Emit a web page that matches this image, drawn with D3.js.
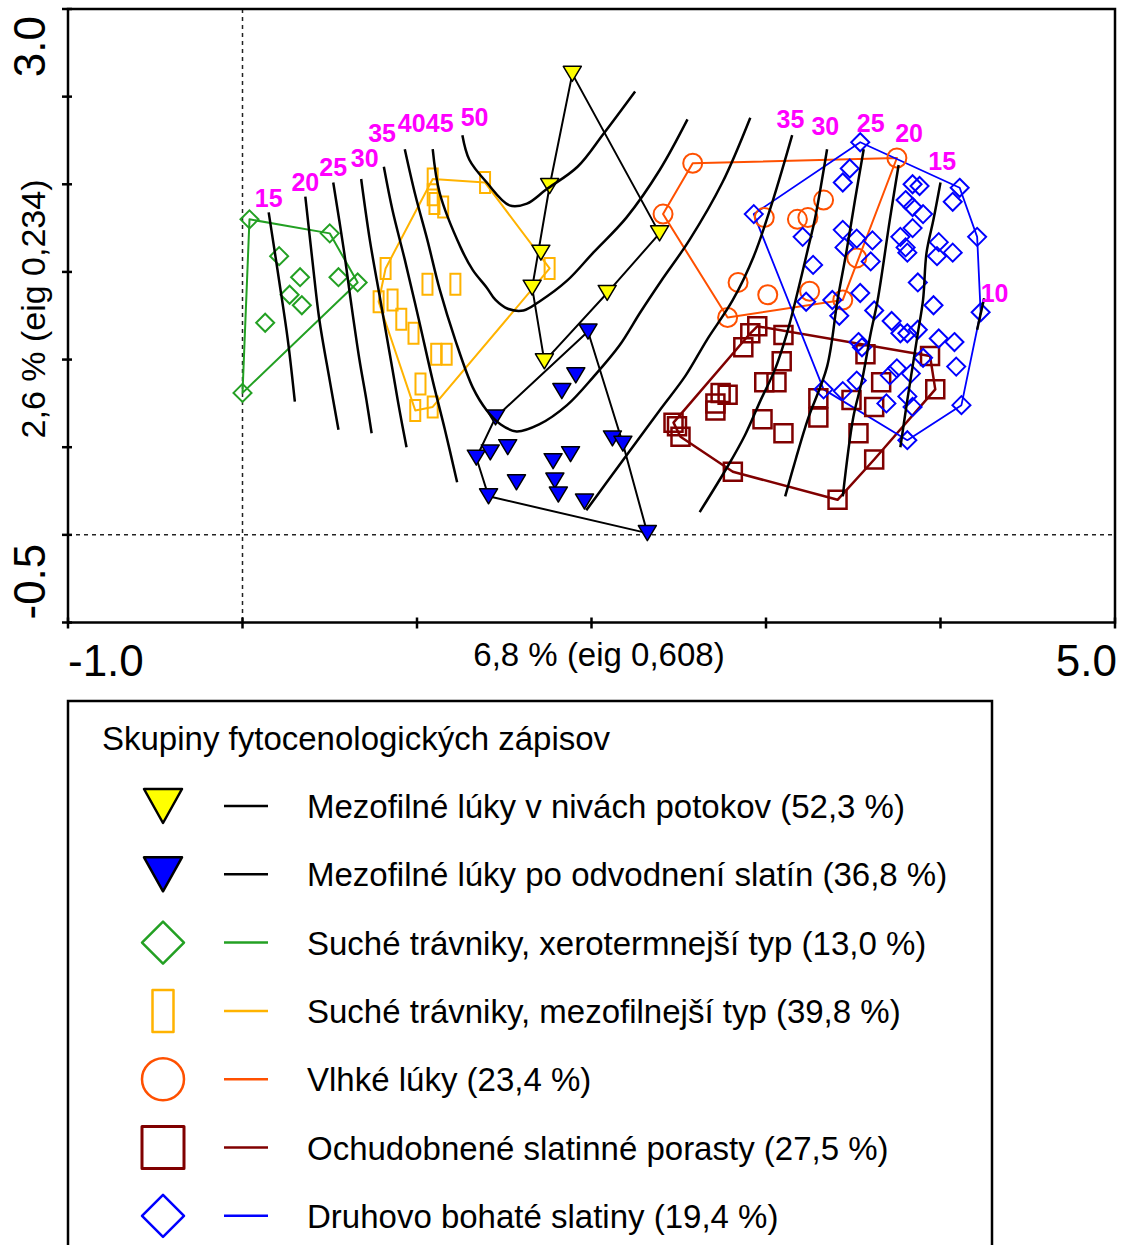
<!DOCTYPE html>
<html lang="sk">
<head>
<meta charset="utf-8">
<title>Skupiny fytocenologických zápisov</title>
<script src="https://cdn.jsdelivr.net/npm/d3@7"></script>
<style>
  body { margin: 0; background: #fff; }
  svg text { font-family: "Liberation Sans", Arial, sans-serif; }
</style>
</head>
<body>
<div id="chart"></div>
<script>
// axes
var xDomain = [-1, 5], yDomain = [-0.5, 3];
var xTicks = [-1, 0, 1, 2, 3, 4, 5];
var yTicks = [-0.5, 0, 0.5, 1, 1.5, 2, 2.5, 3];
var xTickLabels = ["-1.0", "5.0"];      // shown at xDomain ends
var yTickLabels = ["-0.5", "3.0"];
var xTitle = "6,8 % (eig 0,608)";
var yTitle = "2,6 % (eig 0,234)";
var legendTitle = "Skupiny fytocenologických zápisov";

var groupLabels = [
  "Mezofilné lúky v nivách potokov (52,3 %)",
  "Mezofilné lúky po odvodnení slatín (36,8 %)",
  "Suché trávniky, xerotermnejší typ (13,0 %)",
  "Suché trávniky, mezofilnejší typ (39,8 %)",
  "Vlhké lúky (23,4 %)",
  "Ochudobnené slatinné porasty (27,5 %)",
  "Druhovo bohaté slatiny (19,4 %)"
];

// sample scores [axis1, axis2]
var mezoNiva = [[1.89,2.63],[1.76,1.99],[1.71,1.61],[1.66,1.41],[2.09,1.38],[2.39,1.72],[1.73,0.99]];
var mezoOdvod = [[1.98,1.16],[1.91,0.91],[1.83,0.82],[1.45,0.67],[2.12,0.55],[2.18,0.52],[1.34,0.44],
  [1.42,0.47],[1.52,0.50],[1.78,0.42],[1.88,0.46],[1.57,0.30],[1.79,0.31],[1.81,0.23],[1.96,0.19],
  [1.41,0.22],[2.32,0.01]];
var sucheXero = [[0.04,1.80],[0.21,1.59],[0.33,1.47],[0.27,1.37],[0.34,1.31],[0.50,1.72],[0.55,1.47],
  [0.66,1.44],[0.13,1.21],[0.00,0.81]];
var sucheMezo = [[1.09,2.03],[1.09,1.94],[1.10,1.89],[1.15,1.87],[1.39,2.01],[0.82,1.52],[1.76,1.52],
  [1.06,1.43],[1.22,1.43],[0.78,1.33],[0.86,1.34],[0.91,1.23],[0.98,1.15],[1.11,1.03],[1.17,1.03],
  [1.02,0.86],[0.99,0.71],[1.09,0.73]];
var vlhke = [[2.58,2.12],[2.41,1.83],[2.99,1.81],[3.18,1.80],[3.24,1.81],[3.33,1.91],[3.75,2.15],
  [2.84,1.44],[3.01,1.37],[3.25,1.39],[3.44,1.34],[3.52,1.58],[2.78,1.24]];
var ochudobnene = [[2.95,1.19],[2.91,1.15],[2.87,1.07],[3.10,1.14],[3.09,0.99],[2.99,0.87],[3.06,0.87],
  [2.74,0.81],[2.78,0.80],[2.71,0.75],[2.71,0.71],[2.47,0.64],[2.49,0.62],[2.51,0.56],[2.98,0.66],
  [3.10,0.58],[3.30,0.78],[3.30,0.67],[3.49,0.77],[3.53,0.58],[3.57,1.03],[3.62,0.73],[3.66,0.87],
  [3.94,1.02],[3.97,0.83],[3.62,0.43],[3.41,0.20],[2.81,0.36]];
var bohate = [[3.54,2.24],[3.48,2.09],[3.44,2.01],[3.84,2.00],[3.88,1.99],[4.11,1.98],[4.07,1.90],
  [3.80,1.91],[3.84,1.87],[3.90,1.83],[3.84,1.75],[2.93,1.83],[3.21,1.70],[3.44,1.74],[3.52,1.69],
  [3.61,1.68],[3.45,1.64],[3.60,1.56],[3.27,1.54],[3.77,1.70],[3.80,1.64],[3.81,1.61],[3.99,1.67],
  [4.07,1.61],[3.98,1.59],[4.21,1.70],[3.87,1.44],[3.96,1.31],[4.23,1.27],[3.54,1.38],[3.62,1.28],
  [3.42,1.25],[3.38,1.34],[3.23,1.33],[3.72,1.22],[3.77,1.15],[3.81,1.15],[3.87,1.17],[3.99,1.12],
  [4.08,1.10],[3.53,1.10],[3.55,1.07],[3.90,1.01],[4.09,0.96],[3.75,0.95],[3.71,0.91],[3.83,0.92],
  [3.52,0.88],[3.81,0.79],[3.84,0.73],[3.69,0.75],[3.44,0.82],[3.33,0.83],[4.12,0.74],[3.81,0.54]];

var groupPoints = [mezoNiva, mezoOdvod, sucheXero, sucheMezo, vlhke, ochudobnene, bohate];

// isolines of the fitted surface
var contourValues = [15, 20, 25, 30, 35, 40, 45, 50, 35, 30, 25, 20, 15, 10];
var contourLines = [
  [[0.15,1.84],[0.21,1.45],[0.26,1.11],[0.30,0.76]],
  [[0.36,1.93],[0.40,1.57],[0.44,1.23],[0.50,0.88],[0.55,0.60]],
  [[0.52,2.01],[0.58,1.63],[0.62,1.34],[0.67,1.00],[0.71,0.77],[0.74,0.58]],
  [[0.68,2.03],[0.73,1.68],[0.79,1.34],[0.86,0.94],[0.90,0.71],[0.94,0.50]],
  [[0.81,2.10],[0.86,1.85],[0.93,1.57],[1.01,1.23],[1.09,0.88],[1.16,0.60],[1.23,0.30]],
  [[0.93,2.20],[0.99,1.94],[1.06,1.68],[1.13,1.40],[1.22,1.11],[1.32,0.84],[1.40,0.71],[1.48,0.63],
   [1.57,0.59],[1.70,0.63],[1.86,0.74],[2.01,0.90],[2.16,1.08],[2.28,1.27],[2.40,1.45],[2.56,1.68],
   [2.75,2.01],[2.91,2.38]],
  [[1.09,2.20],[1.13,1.95],[1.25,1.64],[1.32,1.51],[1.40,1.41],[1.45,1.34],[1.52,1.29],[1.61,1.28],
   [1.70,1.33],[1.86,1.45],[2.01,1.61],[2.20,1.81],[2.39,2.08],[2.55,2.37]],
  [[1.26,2.28],[1.30,2.14],[1.40,2.01],[1.53,1.88],[1.63,1.89],[1.74,1.97],[1.92,2.10],[2.07,2.29],[2.25,2.53]],
  [[3.15,2.28],[3.04,1.91],[2.93,1.59],[2.81,1.34],[2.66,1.11],[2.54,0.91],[2.39,0.71],[2.22,0.48],[2.08,0.29],[1.97,0.14]],
  [[3.35,2.20],[3.28,1.80],[3.24,1.63],[3.17,1.34],[3.12,1.15],[3.05,0.94],[2.97,0.77],[2.88,0.57],[2.78,0.39],[2.62,0.13]],
  [[3.56,2.20],[3.51,1.91],[3.46,1.61],[3.41,1.34],[3.35,0.96],[3.24,0.66],[3.17,0.43],[3.11,0.22]],
  [[3.76,2.11],[3.71,1.80],[3.64,1.34],[3.60,1.15],[3.55,0.88],[3.50,0.67],[3.44,0.22]],
  [[4.00,2.01],[3.96,1.80],[3.92,1.61],[3.90,1.34],[3.87,1.15],[3.84,0.96],[3.81,0.77],[3.77,0.50]],
  [[4.25,1.35],[4.21,1.17]]
];
var contourLabelAt = [[0.15,1.87],[0.36,1.96],[0.52,2.05],[0.70,2.10],[0.80,2.24],[0.97,2.30],[1.13,2.30],
  [1.33,2.33],[3.14,2.32],[3.34,2.28],[3.60,2.30],[3.82,2.24],[4.01,2.08],[4.31,1.33]];

// look of each group (same order as groupLabels)
var groupStyle = [
  {mark: "tri", fill: "#ffff00", stroke: "#000", line: "#000", lw: 2, plot: [18, 15], leg: [38, 34], sw: 1.5, lsw: 2.5},
  {mark: "tri", fill: "#0000ff", stroke: "#000", line: "#000", lw: 2, plot: [18, 15], leg: [38, 34], sw: 1.5, lsw: 2.5},
  {mark: "diamond", fill: "none", stroke: "#23a023", line: "#23a023", lw: 2, plot: [18, 18], leg: [42, 42], sw: 2, lsw: 2.5},
  {mark: "rect", fill: "none", stroke: "#ffb300", line: "#ffb300", lw: 2, plot: [10, 21], leg: [21, 42], sw: 2, lsw: 2.5},
  {mark: "circle", fill: "none", stroke: "#ff5000", line: "#ff5000", lw: 2, plot: [19, 19], leg: [42, 42], sw: 2, lsw: 2.5},
  {mark: "rect", fill: "none", stroke: "#800000", line: "#800000", lw: 2.5, plot: [18, 18], leg: [42, 42], sw: 2.5, lsw: 3},
  {mark: "diamond", fill: "none", stroke: "#0000ff", line: "#0000ff", lw: 1.8, plot: [18, 18], leg: [42, 42], sw: 2, lsw: 2.5}
];

var W = 1125, H = 1245;
var svg = d3.select("#chart").append("svg")
    .attr("width", W).attr("height", H);

var x = d3.scaleLinear().domain(xDomain).range([68, 1115]);
var y = d3.scaleLinear().domain(yDomain).range([622.5, 9]);

function markPath(type, cx, cy, w, h) {
  var p = d3.path();
  if (type == "tri") {
    p.moveTo(cx - w / 2, cy - h / 2); p.lineTo(cx + w / 2, cy - h / 2); p.lineTo(cx, cy + h / 2); p.closePath();
  } else if (type == "diamond") {
    p.moveTo(cx, cy - h / 2); p.lineTo(cx + w / 2, cy); p.lineTo(cx, cy + h / 2); p.lineTo(cx - w / 2, cy); p.closePath();
  } else if (type == "rect") {
    p.rect(cx - w / 2, cy - h / 2, w, h);
  } else {
    p.moveTo(cx + w / 2, cy); p.arc(cx, cy, w / 2, 0, 2 * Math.PI);
  }
  return p.toString();
}

// zero lines
svg.append("line").attr("x1", x(0)).attr("x2", x(0)).attr("y1", y(3)).attr("y2", y(-0.5))
   .attr("stroke", "#222").attr("stroke-width", 1.5).attr("stroke-dasharray", "4,4");
svg.append("line").attr("x1", x(-1)).attr("x2", x(5)).attr("y1", y(0)).attr("y2", y(0))
   .attr("stroke", "#222").attr("stroke-width", 1.5).attr("stroke-dasharray", "4,4");

// envelopes
var plot = svg.append("g");
groupPoints.forEach(function(pts, i) {
  var st = groupStyle[i];
  var hull = d3.polygonHull(pts.map(function(d) { return [x(d[0]), y(d[1])]; }));
  plot.append("path")
      .attr("d", "M" + hull.join("L") + "Z")
      .attr("fill", "none").attr("stroke", st.line).attr("stroke-width", st.lw)
      .attr("stroke-linejoin", "round");
});

// open markers first, filled triangles later
var order = [2, 3, 4, 5, 6];
order.forEach(function(i) {
  var st = groupStyle[i];
  plot.append("g").selectAll("path").data(groupPoints[i]).enter().append("path")
      .attr("d", function(d) { return markPath(st.mark, x(d[0]), y(d[1]), st.plot[0], st.plot[1]); })
      .attr("fill", st.fill).attr("stroke", st.stroke).attr("stroke-width", st.sw);
});

// isolines
var line = d3.line().x(function(d) { return x(d[0]); }).y(function(d) { return y(d[1]); })
    .curve(d3.curveCatmullRom.alpha(0.5));
svg.append("g").selectAll("path").data(contourLines).enter().append("path")
    .attr("d", line)
    .attr("fill", "none").attr("stroke", "#000").attr("stroke-width", 2.5);

[0, 1].forEach(function(i) {
  var st = groupStyle[i];
  plot.append("g").selectAll("path").data(groupPoints[i]).enter().append("path")
      .attr("d", function(d) { return markPath(st.mark, x(d[0]), y(d[1]), st.plot[0], st.plot[1]); })
      .attr("fill", st.fill).attr("stroke", st.stroke).attr("stroke-width", st.sw)
      .attr("stroke-linejoin", "round");
});

svg.append("g").selectAll("text").data(contourValues).enter().append("text")
    .attr("x", function(d, i) { return x(contourLabelAt[i][0]); })
    .attr("y", function(d, i) { return y(contourLabelAt[i][1]); })
    .attr("text-anchor", "middle")
    .attr("font-size", 25).attr("font-weight", "bold").attr("fill", "#ff00ff")
    .text(function(d) { return d; });

// frame and ticks
svg.append("rect").attr("x", x(-1)).attr("y", y(3))
   .attr("width", x(5) - x(-1)).attr("height", y(-0.5) - y(3))
   .attr("fill", "none").attr("stroke", "#000").attr("stroke-width", 2.5);
svg.append("g").selectAll("line").data(yTicks).enter().append("line")
   .attr("x1", x(-1) - 6).attr("x2", x(-1) + 4)
   .attr("y1", function(d) { return y(d); }).attr("y2", function(d) { return y(d); })
   .attr("stroke", "#000").attr("stroke-width", 2.5);
svg.append("g").selectAll("line").data(xTicks).enter().append("line")
   .attr("y1", y(-0.5) - 5).attr("y2", y(-0.5) + 6)
   .attr("x1", function(d) { return x(d); }).attr("x2", function(d) { return x(d); })
   .attr("stroke", "#000").attr("stroke-width", 2.5);

svg.append("text").attr("x", x(xDomain[0])).attr("y", 676).attr("font-size", 44)
   .attr("text-anchor", "start").text(xTickLabels[0]);
svg.append("text").attr("x", x(xDomain[1]) + 2).attr("y", 676).attr("font-size", 44)
   .attr("text-anchor", "end").text(xTickLabels[1]);
svg.append("text").attr("transform", "translate(45," + (y(yDomain[0]) - 3) + ") rotate(-90)")
   .attr("font-size", 44).attr("text-anchor", "start").text(yTickLabels[0]);
svg.append("text").attr("transform", "translate(45," + (y(yDomain[1]) + 7) + ") rotate(-90)")
   .attr("font-size", 44).attr("text-anchor", "end").text(yTickLabels[1]);

svg.append("text").attr("x", 599).attr("y", 666).attr("font-size", 33)
   .attr("text-anchor", "middle").text(xTitle);
svg.append("text").attr("transform", "translate(45,309) rotate(-90)")
   .attr("font-size", 34).attr("text-anchor", "middle").text(yTitle);

// legend
var leg = svg.append("g");
leg.append("rect").attr("x", 68).attr("y", 701).attr("width", 924).attr("height", 600)
   .attr("fill", "none").attr("stroke", "#000").attr("stroke-width", 2.5);
leg.append("text").attr("x", 102).attr("y", 750).attr("font-size", 33).text(legendTitle);

groupLabels.forEach(function(lab, i) {
  var st = groupStyle[i];
  var cy = 806 + i * 68.3;
  leg.append("path").attr("d", markPath(st.mark, 163, cy, st.leg[0], st.leg[1]))
     .attr("fill", st.fill).attr("stroke", st.stroke).attr("stroke-width", st.lsw)
     .attr("stroke-linejoin", "round");
  leg.append("line").attr("x1", 224).attr("x2", 268).attr("y1", cy).attr("y2", cy)
     .attr("stroke", st.line).attr("stroke-width", 2.5);
  leg.append("text").attr("x", 307).attr("y", cy + 12).attr("font-size", 33).text(lab);
});
</script>
</body>
</html>
